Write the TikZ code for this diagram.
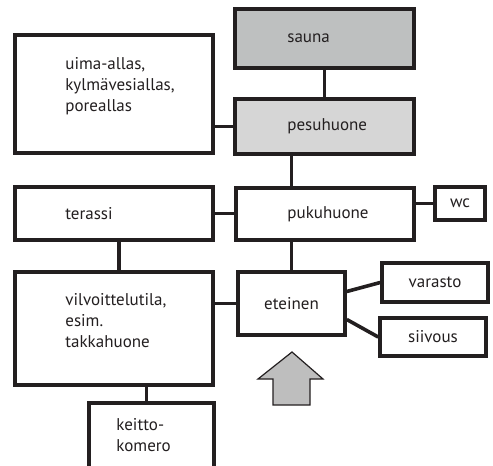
\documentclass[tikz,border=0pt]{standalone}
\usepackage{fontspec}
\setmainfont{PT Sans}
\definecolor{ink}{RGB}{35,31,32}
\definecolor{saunagray}{RGB}{190,192,192}
\definecolor{pesugray}{RGB}{214,214,214}
\definecolor{arrowgray}{RGB}{190,190,190}

\begin{document}
\begin{tikzpicture}[x=1pt, y=-1pt,
roombox/.style={rectangle, draw=ink, line width=3.6pt, fill=white, inner sep=0pt, text=ink, font=\fontsize{17}{21}\selectfont},
roomtext/.style={anchor=west, xshift=52pt, inner sep=0pt, align=left, text=ink, font=\fontsize{17}{21}\selectfont},
link/.style={draw=ink, line width=3.6pt},
]
\useasboundingbox (0,0) rectangle (493,466);
\clip (0,0) rectangle (493,466);

%Nodes
\node[roombox, minimum width=198pt, minimum height=118pt, label={[roomtext, yshift=8pt]west:uima-allas,\\kylmävesiallas,\\poreallas}] (pool) at (114,94) {};
\node[roombox, fill=saunagray, minimum width=179pt, minimum height=59pt, label={[roomtext, xshift=2pt]west:sauna}] (sauna) at (324.5,38.5) {};
\node[roombox, fill=pesugray, minimum width=179pt, minimum height=55pt, label={[roomtext, xshift=2pt]west:pesuhuone}] (pesu) at (324.5,126.5) {};
\node[roombox, minimum width=198pt, minimum height=53pt, label={[roomtext]west:terassi}] (terassi) at (114,213.5) {};
\node[roombox, minimum width=178pt, minimum height=52pt, label={[roomtext, xshift=1pt]west:pukuhuone}] (puku) at (325,214) {};
\node[roombox, minimum width=50pt, minimum height=33pt] (wc) at (460,203.5) {wc};
\node[roombox, minimum width=198pt, minimum height=113pt, label={[roomtext, yshift=8pt]west:vilvoittelutila,\\esim.\\takkahuone}] (vilv) at (114,328.5) {};
\node[roombox, minimum width=107pt, minimum height=63pt] (eteinen) at (291.5,303.5) {eteinen};
\node[roombox, minimum width=106pt, minimum height=39pt] (varasto) at (435,282.5) {varasto};
\node[roombox, minimum width=106pt, minimum height=38pt] (siivous) at (433,337) {siivous};
\node[roombox, minimum width=125pt, minimum height=87pt, label={[roomtext, anchor=north west, xshift=-23pt, yshift=-17pt]north west:keitto-\\komero}] (keitto) at (151.5,446.5) {};

%Lines
\draw[link] (sauna.south) -- (pesu.north);
\draw[link] (pool.east |- pesu.west) -- (pesu.west);
\draw[link] (pesu.south -| eteinen.north) -- (puku.north -| eteinen.north);
\draw[link] (terassi.east) -- (puku.west |- terassi.east);
\draw[link] (puku.east |- wc.west) -- (wc.west);
\draw[link] ([xshift=5pt]terassi.south) -- ([xshift=5pt]terassi.south |- vilv.north);
\draw[link] (puku.south -| eteinen.north) -- (eteinen.north);
\draw[link] (vilv.east |- eteinen.west) -- (eteinen.west);
\draw[link] ([yshift=12pt]eteinen.east) -- (varasto.west);
\draw[link] ([yshift=-16pt]eteinen.east) -- (siivous.west);
\draw[link] ([xshift=-5pt]vilv.south -| keitto.north) -- ([xshift=-5pt]keitto.north);

%Entrance
\draw[ink, line width=1.2pt, fill=arrowgray] (292,352) -- (323,379) -- (310,379) -- (310,405) -- (273,405) -- (273,379) -- (258,379) -- cycle;
\end{tikzpicture}
\end{document}
